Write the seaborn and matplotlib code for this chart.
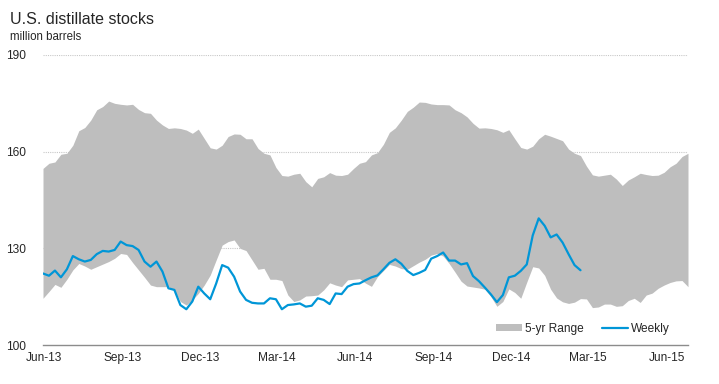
import pandas as pd
import numpy as np
import matplotlib
matplotlib.use("Agg")
import matplotlib.pyplot as plt
import matplotlib.dates as mdates
import seaborn as sns

# weekly dates, 5-yr range (low/high) and weekly stocks, million barrels
dates = pd.date_range("2013-05-31", periods=109, freq="7D")

range_high = [154.8, 156.4, 156.8, 159.2, 159.5, 162.0, 166.5, 167.5, 169.8, 173.0,
              174.0, 175.7, 175.0, 174.7, 174.5, 174.7, 173.1, 172.1, 171.9, 169.8,
              168.3, 167.2, 167.4, 167.2, 166.7, 165.7, 167.0, 164.1, 161.2, 160.8,
              162.0, 164.7, 165.5, 165.4, 164.0, 164.0, 161.0, 159.5, 159.0, 155.1,
              152.6, 152.4, 153.0, 153.3, 150.7, 149.1, 151.7, 152.2, 153.5, 152.7,
              152.6, 153.0, 154.8, 156.4, 156.9, 159.0, 159.7, 162.3, 166.0, 167.4,
              169.8, 172.5, 173.8, 175.4, 175.3, 174.8, 174.6, 174.6, 174.5, 173.0,
              172.1, 170.8, 168.8, 167.3, 167.4, 167.2, 166.8, 166.0, 166.8, 164.0,
              161.3, 160.8, 161.7, 164.0, 165.4, 164.8, 164.1, 163.4, 160.8, 159.5,
              158.8, 155.5, 152.8, 152.4, 152.7, 153.0, 151.5, 149.5, 151.2, 152.2,
              153.3, 152.9, 152.6, 152.7, 153.6, 155.3, 156.4, 158.5, 159.5]

range_low = [114.5, 116.6, 118.8, 117.9, 120.4, 123.3, 125.3, 124.5, 123.5, 124.3,
             125.1, 125.9, 126.9, 128.4, 128.1, 125.6, 123.3, 121.0, 118.6, 118.1,
             118.1, 118.1, 117.1, 113.5, 112.4, 114.0, 116.0, 118.6, 121.7, 126.4,
             131.0, 132.1, 132.6, 130.0, 129.3, 126.4, 123.5, 123.8, 120.4, 120.4,
             120.0, 115.5, 113.5, 114.0, 115.2, 115.3, 115.5, 117.1, 119.3, 118.6,
             118.1, 120.2, 120.4, 120.6, 119.2, 118.2, 121.2, 123.1, 125.0, 124.5,
             123.7, 123.5, 124.6, 125.7, 126.6, 127.9, 128.4, 127.6, 125.3, 122.6,
             119.8, 118.3, 118.0, 117.7, 117.3, 115.0, 112.0, 113.5, 117.4, 116.3,
             114.5, 119.5, 124.3, 123.9, 121.6, 117.3, 114.6, 113.4, 112.9, 113.3,
             114.4, 114.3, 111.6, 111.8, 112.7, 112.7, 112.0, 112.2, 113.8, 114.5,
             113.2, 115.5, 116.1, 117.6, 118.6, 119.4, 119.9, 120.0, 118.1]

weekly = [122.2, 121.5, 123.1, 121.0, 123.5, 127.6, 126.6, 125.9, 126.4, 128.2,
          129.2, 129.0, 129.5, 132.1, 131.0, 130.7, 129.5, 125.9, 124.3, 125.9,
          122.8, 117.6, 117.1, 112.4, 111.1, 113.5, 118.1, 116.0, 114.2, 119.1,
          124.8, 124.0, 121.2, 116.6, 114.0, 113.1, 112.9, 112.9, 114.5, 114.2,
          111.1, 112.4, 112.6, 112.9, 111.9, 112.2, 114.5, 114.0, 112.7, 116.0,
          115.8, 118.1, 118.9, 119.1, 120.1, 121.0, 121.6, 123.5, 125.5, 126.6,
          125.2, 123.0, 121.7, 122.4, 123.3, 126.8, 127.6, 128.7, 126.2, 126.2,
          125.0, 125.4, 121.4, 119.8, 117.8, 115.7, 113.3, 115.5, 121.0, 121.5,
          123.0, 125.0, 134.0, 139.3, 137.0, 133.4, 134.3, 131.8, 128.2, 124.8,
          123.2]

yticks = [100, 130, 160, 190]

band = pd.DataFrame({"date": dates, "low": range_low, "high": range_high})
wk = pd.DataFrame({"date": dates[:len(weekly)], "value": weekly})

sns.set_style("white")
plt.rcParams["font.family"] = ["Liberation Sans", "DejaVu Sans"]
text_col = "#262626"

fig = plt.figure(figsize=(7.19, 3.84), dpi=100)
ax = fig.add_axes([43 / 719, 1 - 345 / 384, 645 / 719, 290 / 384])

ax.fill_between(band["date"], band["low"], band["high"], color="#bebebe",
                linewidth=0, label="5-yr Range", zorder=2)
sns.lineplot(data=wk, x="date", y="value", ax=ax, color="#0096d7",
             linewidth=1.6, label="Weekly", zorder=3)

ax.set_xlim(dates[0], dates[-1])
ax.set_ylim(100, 190)
ax.set_yticks(yticks)
for y in yticks[1:]:
    ax.axhline(y, color="#c8c8c8", linewidth=0.8, linestyle=(0, (1, 1)), zorder=1)

ax.xaxis.set_major_locator(mdates.MonthLocator(bymonth=[3, 6, 9, 12]))
ax.xaxis.set_major_formatter(mdates.DateFormatter("%b-%y"))
ax.tick_params(axis="x", direction="in", length=4, width=0.8, color="#8c8c8c",
               labelsize=8.6, labelcolor=text_col, pad=5)
ax.tick_params(axis="y", length=0, labelsize=8.6, labelcolor=text_col, pad=12)
ax.set_xlabel("")
ax.set_ylabel("")

for s in ["top", "right", "left"]:
    ax.spines[s].set_visible(False)
ax.spines["bottom"].set_color("#8c8c8c")
ax.spines["bottom"].set_linewidth(1.0)

leg = ax.legend(loc="center right", bbox_to_anchor=(670 / 719, 1 - 329 / 384),
                bbox_transform=fig.transFigure, ncol=2, frameon=False,
                fontsize=8.6, handlelength=2.2, handleheight=0.5,
                handletextpad=0.25, columnspacing=1.5, borderpad=0,
                borderaxespad=0)
for t in leg.get_texts():
    t.set_color(text_col)

fig.text(10 / 719, 1 - 24 / 384, "U.S. distillate stocks", fontsize=11.5,
         color=text_col, ha="left", va="baseline")
fig.text(10 / 719, 1 - 40 / 384, "million barrels", fontsize=8.3,
         color=text_col, ha="left", va="baseline")

fig.savefig("out.png", dpi=100)
